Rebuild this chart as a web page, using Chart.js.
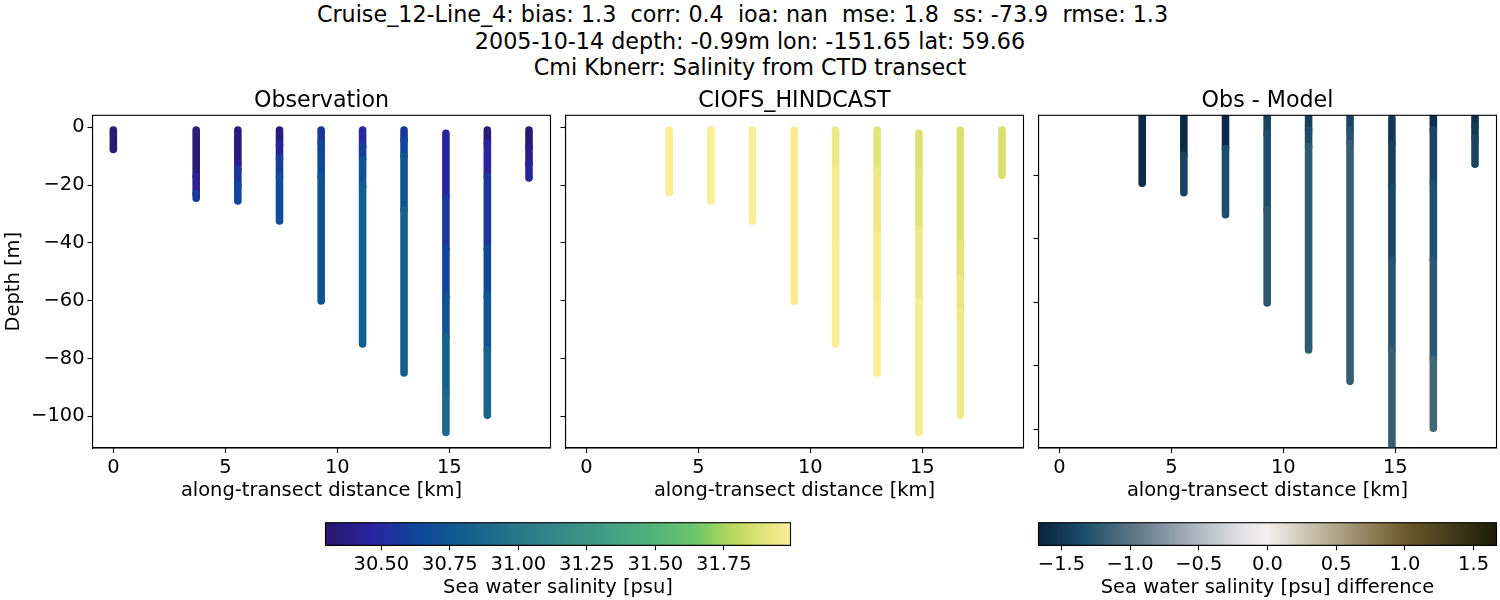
<!DOCTYPE html>
<html><head><meta charset="utf-8">
<script src="https://cdn.jsdelivr.net/npm/chart.js@4/dist/chart.umd.js"></script>
<style>
html,body{margin:0;padding:0;background:#fff;overflow:hidden}
#stage{position:relative;width:1500px;height:600px}
canvas{position:absolute;left:0;top:0}
.sup{position:absolute;left:0;width:1485px;text-align:center;font:22.25px "DejaVu Sans";color:#000;white-space:pre;line-height:27px}
</style></head><body>
<div id="stage">
<div class="sup" style="top:1px">Cruise_12-Line_4: bias: 1.3  corr: 0.4  ioa: nan  mse: 1.8  ss: -73.9  rmse: 1.3</div>
<div class="sup" style="top:28px;width:1500px">2005-10-14 depth: -0.99m lon: -151.65 lat: 59.66</div>
<div class="sup" style="top:54px;width:1500px">Cmi Kbnerr: Salinity from CTD transect</div>
<canvas id="c1" width="1500" height="600"></canvas>
<canvas id="c2" width="1500" height="600"></canvas>
<canvas id="c3" width="1500" height="600"></canvas>
<canvas id="c4" width="1500" height="600"></canvas>
<canvas id="c5" width="1500" height="600"></canvas>
</div>
<script>
// ---- data ----
const distances = [0, 3.7, 5.56, 7.42, 9.28, 11.13, 12.98, 14.85, 16.7, 18.56];

const obsDepths = [
  [-0.9,-7.6],
  [-0.9,-17,-23,-24.5],
  [-0.9,-12.4,-14.7,-20,-25.5],
  [-0.9,-6,-10.7,-17,-32.4],
  [-0.9,-5.5,-17,-60.1],
  [-0.9,-6.7,-11,-20.5,-75],
  [-0.9,-4.4,-10,-28.6,-85],
  [-2,-24,-42,-58.6,-72.5,-92,-105.6],
  [-0.9,-5.5,-17,-42,-58.6,-77,-99.7],
  [-0.9,-6.7,-12.4,-17.5]
];
const obsSalinity = [
  [30.34,30.34],
  [30.35,30.42,30.56,30.56],
  [30.36,30.45,30.56,30.62,30.62],
  [30.36,30.44,30.6,30.68,30.68],
  [30.55,30.63,30.7,30.7],
  [30.5,30.6,30.72,30.8,30.8],
  [30.55,30.62,30.72,30.82,30.82],
  [30.47,30.56,30.63,30.72,30.82,30.88,30.88],
  [30.34,30.47,30.56,30.64,30.73,30.85,30.85],
  [30.33,30.38,30.45,30.45]
];

const modelDepths = [
  [],
  [-0.9,-22.6],
  [-0.9,-25.5],
  [-0.9,-32.4],
  [-0.9,-60.2],
  [-0.9,-15,-40,-75],
  [-0.9,-15,-35,-60,-85],
  [-2,-15,-35,-60,-105.6],
  [-0.9,-40,-52,-64,-99.7],
  [-0.9,-16.6]
];
const modelSalinity = [
  [],
  [31.985,31.985],
  [31.985,31.985],
  [31.98,31.98],
  [31.975,31.975],
  [31.94,31.965,31.98,31.98],
  [31.9,31.93,31.955,31.98,31.98],
  [31.87,31.89,31.93,31.97,31.97],
  [31.87,31.9,31.93,31.95,31.95],
  [31.86,31.86]
];

const diffDepths = [
  [],
  [-0.9,-22.5],
  [-0.9,-13.6,-25.5],
  [-0.9,-11.5,-32.4],
  [-0.9,-6.9,-30.9,-60.2],
  [-0.9,-5.7,-11,-75],
  [-0.9,-5.7,-10,-84.9],
  [-2,-10,-23.6,-46.7,-75,-105.6],
  [-0.9,-5.7,-22.5,-46.7,-78,-99.7],
  [-0.9,-4.6,-8.3,-16.5]
];
const diffValues = [
  [],
  [-1.6,-1.6],
  [-1.62,-1.42,-1.42],
  [-1.62,-1.34,-1.34],
  [-1.42,-1.34,-1.25,-1.25],
  [-1.45,-1.34,-1.22,-1.22],
  [-1.4,-1.3,-1.2,-1.2],
  [-1.52,-1.45,-1.38,-1.28,-1.2,-1.2],
  [-1.58,-1.4,-1.32,-1.25,-1.12,-1.12],
  [-1.56,-1.48,-1.4,-1.4]
];

const xTicks = [0,5,10,15];
const yTicks = [0,-20,-40,-60,-80,-100];
const salinityTicks = [30.5,30.75,31,31.25,31.5,31.75];
const diffTicks = [-1.5,-1,-0.5,0,0.5,1,1.5];
const salinityRange = [30.296,31.993];
const diffRange = [-1.667,1.667];

// ---- colour maps ----
const halineStops = [[0,41,24,107],[.1,42,35,160],[.2,15,71,153],[.3,18,95,142],[.4,38,116,137],[.5,53,136,136],[.6,65,157,133],[.7,81,178,124],[.8,111,198,107],[.86,170,213,90],[.92,215,225,110],[1,253,238,153]];
const diffStops = [[0,10,35,65],[.1,28,78,106],[.2,90,115,130],[.35,175,185,195],[.44,225,225,228],[.5,243,240,237],[.65,176,165,135],[.8,108,90,45],[1,28,28,8]];
function cmap(stops,f){
  f=Math.max(0,Math.min(1,f));
  for(let i=1;i<stops.length;i++){
    if(f<=stops[i][0]){
      const a=stops[i-1],b=stops[i],t=(f-a[0])/(b[0]-a[0]);
      return `rgb(${[1,2,3].map(k=>Math.round(a[k]+(b[k]-a[k])*t)).join(',')})`;
    }
  }
  return 'rgb(253,238,153)';
}
const FONT='"DejaVu Sans"';
const TICK=19.44;
const frame={id:'frame',afterDraw(c){const a=c.chartArea,x=c.ctx;x.save();x.strokeStyle='#000';x.lineWidth=1.1;x.strokeRect(a.left,a.top,a.right-a.left,a.bottom-a.top);x.restore();}};
const minus=v=>String(v).replace('-','\u2212');

function panel(id,title,box,yLim,showY,depths,vals,stops,range){
  const col=v=>cmap(stops,(v-range[0])/(range[1]-range[0]));
  const datasets=[];
  distances.forEach((d,i)=>{
    if(!depths[i].length) return;
    const v=vals[i];
    datasets.push({
      data:depths[i].map(y=>({x:d,y})),
      showLine:true,clip:0,borderWidth:7.6,borderCapStyle:'round',borderColor:col(v[0]),
      pointRadius:0,
      segment:{borderColor:s=>col(v[s.p0DataIndex])}
    });
  });
  const axisW=90, titleH=27.2, xH=55;
  return new Chart(document.getElementById(id),{
    type:'scatter',data:{datasets},plugins:[frame],
    options:{responsive:false,animation:false,events:[],
      layout:{padding:{left:box.l-axisW,right:1500-box.r,top:box.t-titleH,bottom:600-box.b-xH}},
      plugins:{legend:{display:false},tooltip:{enabled:false},
        title:{display:true,fullSize:false,text:title,color:'#000',font:{family:FONT,size:22.2,weight:'normal',lineHeight:1},padding:{top:2,bottom:3}}},
      scales:{
        x:{type:'linear',min:-0.93,max:19.52,
          afterBuildTicks:a=>{a.ticks=xTicks.map(value=>({value}))},
          afterFit:s=>{s.height=xH},
          grid:{drawOnChartArea:false,tickLength:5,tickColor:'#000',tickWidth:1.1},
          border:{color:'#000',width:1.1},
          ticks:{color:'#000',font:{family:FONT,size:TICK},maxRotation:0,autoSkip:false,padding:3,callback:v=>minus(v)},
          title:{display:true,text:'along-transect distance [km]',color:'#000',font:{family:FONT,size:TICK,lineHeight:1.2},padding:{top:0,bottom:0}}},
        y:{type:'linear',min:yLim[0],max:yLim[1],
          afterBuildTicks:a=>{a.ticks=yTicks.filter(v=>v>=yLim[0]&&v<=yLim[1]).map(value=>({value}))},
          afterFit:s=>{s.width=axisW},
          grid:{drawOnChartArea:false,tickLength:5,tickColor:'#000',tickWidth:1.1},
          border:{color:'#000',width:1.1},
          ticks:{display:showY,color:'#000',font:{family:FONT,size:TICK},autoSkip:false,padding:3,callback:v=>minus(v)},
          title:{display:showY,text:'Depth [m]',color:'#000',font:{family:FONT,size:TICK,lineHeight:1.2},padding:{top:0,bottom:0}}}
      }}
  });
}
function colorbar(id,label,box,range,tickVals,stops,fmt){
  const xH=54.5;
  return new Chart(document.getElementById(id),{
    type:'bar',plugins:[frame],
    data:{labels:[label],datasets:[{data:[range],barPercentage:1,categoryPercentage:1,
      backgroundColor:c=>{
        const a=c.chart.chartArea; if(!a) return '#888';
        const g=c.chart.ctx.createLinearGradient(a.left,0,a.right,0);
        stops.forEach(s=>g.addColorStop(s[0],`rgb(${s[1]},${s[2]},${s[3]})`));
        return g;
      }}]},
    options:{indexAxis:'y',responsive:false,animation:false,events:[],
      layout:{padding:{left:box.l,right:1500-box.r,top:box.t,bottom:600-box.b-xH}},
      plugins:{legend:{display:false},tooltip:{enabled:false}},
      scales:{
        y:{display:false,type:'category'},
        x:{type:'linear',min:range[0],max:range[1],
          afterBuildTicks:a=>{a.ticks=tickVals.map(value=>({value}))},
          afterFit:s=>{s.height=xH},
          grid:{drawOnChartArea:false,tickLength:5,tickColor:'#000',tickWidth:1.1},
          border:{color:'#000',width:1.1},
          ticks:{color:'#000',font:{family:FONT,size:TICK},maxRotation:0,autoSkip:false,padding:3,callback:v=>minus(fmt(v))},
          title:{display:true,text:label,color:'#000',font:{family:FONT,size:TICK,lineHeight:1.2},padding:{top:0,bottom:0}}}
      }}
  });
}
panel('c1','Observation',{l:92.5,r:550.5,t:115.3,b:448},[-111,4.2],true,obsDepths,obsSalinity,halineStops,salinityRange);
panel('c2','CIOFS_HINDCAST',{l:565.5,r:1023.5,t:115.3,b:448},[-111,4.2],false,modelDepths,modelSalinity,halineStops,salinityRange);
panel('c3','Obs - Model',{l:1038.5,r:1496.5,t:115.3,b:448},[-105.9,-1.1],false,diffDepths,diffValues,diffStops,diffRange);
colorbar('c4','Sea water salinity [psu]',{l:325.5,r:790.5,t:522.7,b:545.3},salinityRange,salinityTicks,halineStops,v=>v.toFixed(2));
colorbar('c5','Sea water salinity [psu] difference',{l:1038.5,r:1496.5,t:522.7,b:545.3},diffRange,diffTicks,diffStops,v=>v.toFixed(1));
</script>
</body></html>
